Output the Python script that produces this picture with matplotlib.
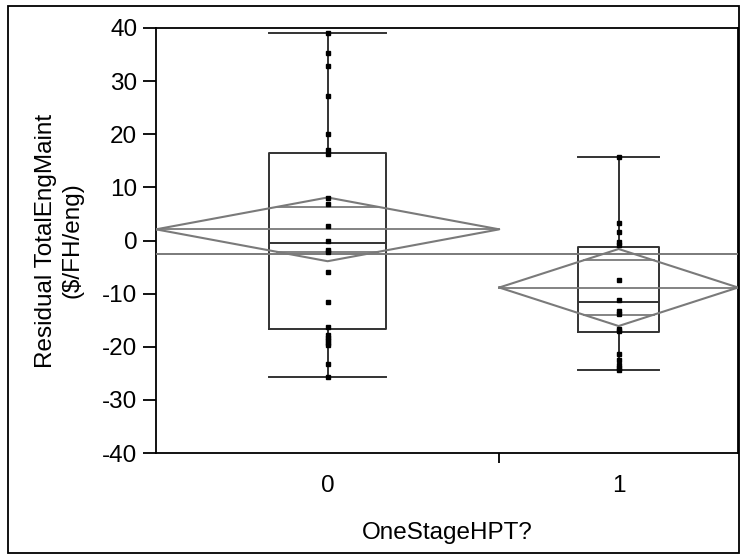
import numpy as np
import matplotlib
matplotlib.use("Agg")
import matplotlib.pyplot as plt
from matplotlib.patches import Rectangle

plt.rcParams['font.family'] = ['Liberation Sans', 'DejaVu Sans']
plt.rcParams['font.size'] = 17.5

## values
groups = ["0", "1"]
pts0 = [39.0, 35.3, 32.8, 27.2, 20.0, 17.0, 16.3, 8.0, 6.9, 2.7, -0.1, -1.8,
        -2.2, -6.0, -11.6, -16.3, -17.8, -18.3, -18.8, -19.3, -19.7, -23.3, -25.7]
pts1 = [15.7, 3.3, 1.6, -0.3, -0.9, -7.5, -11.2, -13.3, -13.9, -16.7, -17.1,
        -21.4, -22.5, -23.5, -24.0, -24.4]
whislo = [-25.7, -24.4]
q1 = [-16.7, -17.2]
med = [-0.5, -11.6]
q3 = [16.5, -1.2]
whishi = [39.0, 15.7]
means = [2.1, -8.85]
ci_half = [6.0, 7.25]
grand_mean = -2.5
yticks = [-40, -30, -20, -10, 0, 10, 20, 30, 40]

points = [pts0, pts1]
counts = [len(p) for p in points]
edges = np.concatenate([[0], np.cumsum(counts)])
centers = (edges[:-1] + edges[1:]) / 2.0

fig = plt.figure(figsize=(7.41, 5.55), dpi=100)
ax = fig.add_axes([156/741, 1 - 453/555, 582/741, 425/555])

boxcol = "#333333"
diacol = "#7a7a7a"

# box plots
stats = []
for i in range(len(groups)):
    stats.append({"whislo": whislo[i], "q1": q1[i], "med": med[i],
                  "q3": q3[i], "whishi": whishi[i], "label": groups[i]})
widths = [0.34 * n for n in counts]
ax.bxp(stats, positions=centers, widths=widths, capwidths=widths,
       showfliers=False, manage_ticks=False,
       boxprops=dict(color=boxcol, linewidth=1.4),
       whiskerprops=dict(color=boxcol, linewidth=1.4),
       capprops=dict(color=boxcol, linewidth=1.4),
       medianprops=dict(color=boxcol, linewidth=1.4))

# grand mean line
ax.axhline(grand_mean, color=diacol, linewidth=1.4, zorder=3)

# means diamonds
for i in range(len(groups)):
    x0, x1, xc = edges[i], edges[i + 1], centers[i]
    m, h = means[i], ci_half[i]
    ax.plot([x0, xc, x1, xc, x0], [m, m + h, m, m - h, m],
            color=diacol, linewidth=1.5, zorder=4)
    ax.plot([x0, x1], [m, m], color=diacol, linewidth=1.3, zorder=4)
    hw = (1 - 1 / np.sqrt(2)) * (x1 - x0) / 2.0
    for s in (1, -1):
        yy = m + s * h / np.sqrt(2)
        ax.plot([xc - hw, xc + hw], [yy, yy], color=diacol, linewidth=1.3, zorder=4)

# points
for i in range(len(groups)):
    ax.plot([centers[i]] * counts[i], points[i], 's', color="black",
            markersize=3.2, zorder=5)

ax.set_xlim(edges[0], edges[-1])
ax.set_ylim(-40, 40)
ax.set_yticks(yticks)
ax.set_yticklabels([str(t) for t in yticks])
ax.tick_params(axis='y', direction='out', length=9.5, width=1.3, pad=4)

ax.set_xticks(edges[1:-1])
ax.set_xticklabels([])
ax.tick_params(axis='x', which='major', direction='out', length=7, width=1.3)
ax.set_xticks(centers, minor=True)
ax.set_xticklabels(groups, minor=True)
ax.tick_params(axis='x', which='minor', length=0, pad=16)

for sp in ax.spines.values():
    sp.set_linewidth(1.3)

ax.set_xlabel("OneStageHPT?", labelpad=18)
ax.set_ylabel("Residual TotalEngMaint\n($/FH/eng)", labelpad=13, linespacing=1.3)

# outer frame
fig.patches.append(Rectangle((8/741, 2/555), 731/741, 547/555, fill=False,
                             edgecolor="black", linewidth=1.3,
                             transform=fig.transFigure))

fig.savefig("out.png", dpi=100)
